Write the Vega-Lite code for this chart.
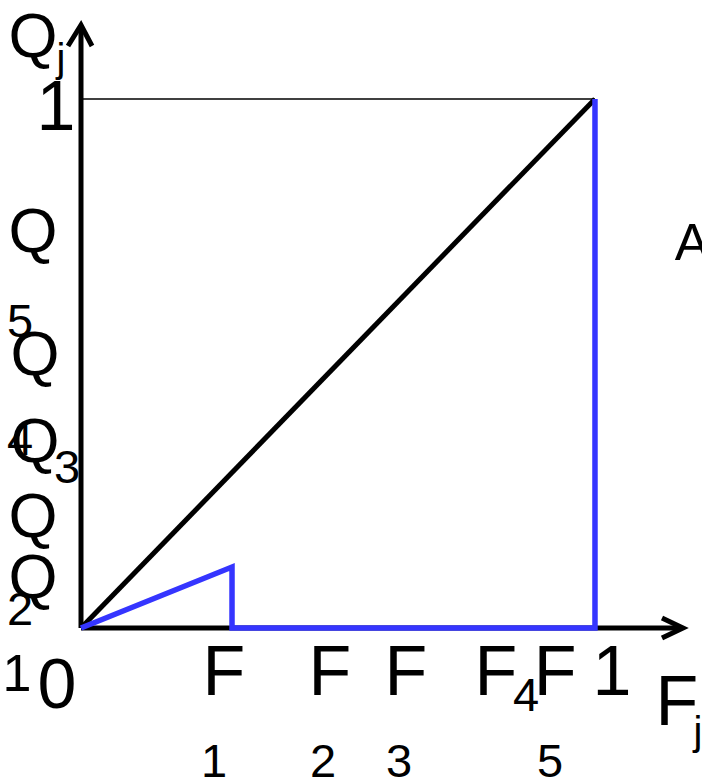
{
  "$schema": "https://vega.github.io/schema/vega-lite/v6.json",
  "width": 702,
  "height": 782,
  "padding": 0,
  "autosize": "none",
  "background": "white",
  "config": {"view": {"stroke": null}},
  "datasets": {
    "frame": [
      {"path": "yaxis", "i": 0, "f": 0, "q": 0},
      {"path": "yaxis", "i": 1, "f": 0, "q": 1.136},
      {"path": "yarrow", "i": 0, "f": -0.0253, "q": 1.1002},
      {"path": "yarrow", "i": 1, "f": 0, "q": 1.1399},
      {"path": "yarrow", "i": 2, "f": 0.0214, "q": 1.1002},
      {"path": "xaxis", "i": 0, "f": 0, "q": 0},
      {"path": "xaxis", "i": 1, "f": 1.168, "q": 0},
      {"path": "xarrow", "i": 0, "f": 1.1304, "q": 0.0189},
      {"path": "xarrow", "i": 1, "f": 1.1712, "q": 0},
      {"path": "xarrow", "i": 2, "f": 1.1304, "q": -0.0189},
      {"path": "equality", "i": 0, "f": 0, "q": 0},
      {"path": "equality", "i": 1, "f": 1, "q": 1}
    ],
    "top": [
      {"i": 0, "f": 0, "q": 1},
      {"i": 1, "f": 1, "q": 1}
    ],
    "lorenz": [
      {"i": 0, "f": 0, "q": 0},
      {"i": 1, "f": 0.2938, "q": 0.1153},
      {"i": 2, "f": 0.2938, "q": 0},
      {"i": 3, "f": 1, "q": 0},
      {"i": 4, "f": 1, "q": 1}
    ],
    "labels": [
      {"t": "Q", "kind": "q", "f": -0.0934, "q": 1.0794},
      {"t": "j", "kind": "tiny", "f": -0.0389, "q": 1.051},
      {"t": "1", "kind": "big", "f": -0.0486, "q": 0.9414},
      {"t": "Q", "kind": "q", "f": -0.0934, "q": 0.7108},
      {"t": "5", "kind": "sub", "f": -0.1187, "q": 0.5501},
      {"t": "Q", "kind": "q", "f": -0.0895, "q": 0.4783},
      {"t": "4", "kind": "sub", "f": -0.1187, "q": 0.327},
      {"t": "Q", "kind": "q", "f": -0.0895, "q": 0.3138},
      {"t": "3", "kind": "sub", "f": -0.0272, "q": 0.2741},
      {"t": "Q", "kind": "q", "f": -0.0934, "q": 0.172},
      {"t": "Q", "kind": "q", "f": -0.0934, "q": 0.0567},
      {"t": "2", "kind": "sub", "f": -0.1187, "q": 0.0057},
      {"t": "1", "kind": "mid", "f": -0.1245, "q": -0.1191},
      {"t": "0", "kind": "big", "f": -0.0467, "q": -0.1512},
      {"t": "F", "kind": "f", "f": 0.2782, "q": -0.1267},
      {"t": "F", "kind": "f", "f": 0.4844, "q": -0.1267},
      {"t": "F", "kind": "f", "f": 0.6323, "q": -0.1267},
      {"t": "F", "kind": "f", "f": 0.8074, "q": -0.1267},
      {"t": "4", "kind": "sub", "f": 0.8658, "q": -0.1569},
      {"t": "F", "kind": "f", "f": 0.9222, "q": -0.1267},
      {"t": "1", "kind": "big", "f": 1.0331, "q": -0.1267},
      {"t": "F", "kind": "f", "f": 1.1595, "q": -0.1834},
      {"t": "j", "kind": "tiny", "f": 1.2004, "q": -0.2212},
      {"t": "1", "kind": "sub", "f": 0.2588, "q": -0.2817},
      {"t": "2", "kind": "sub", "f": 0.4708, "q": -0.2817},
      {"t": "3", "kind": "sub", "f": 0.6187, "q": -0.2817},
      {"t": "5", "kind": "sub", "f": 0.9125, "q": -0.2817},
      {"t": "A", "kind": "label", "f": 1.1887, "q": 0.6957}
    ]
  },
  "encoding": {
    "x": {"field": "f", "type": "quantitative", "axis": null,
          "scale": {"domain": [-0.1576, 1.2082], "nice": false, "zero": false}},
    "y": {"field": "q", "type": "quantitative", "axis": null,
          "scale": {"domain": [-0.2911, 1.1871], "nice": false, "zero": false}}
  },
  "layer": [
    {
      "data": {"name": "top"},
      "mark": {"type": "line", "color": "black", "strokeWidth": 1.5},
      "encoding": {"order": {"field": "i"}}
    },
    {
      "data": {"name": "frame"},
      "mark": {"type": "line", "color": "black", "strokeWidth": 5, "strokeJoin": "miter"},
      "encoding": {"detail": {"field": "path"}, "order": {"field": "i"}}
    },
    {
      "data": {"name": "lorenz"},
      "mark": {"type": "line", "color": "#3535ff", "strokeWidth": 5.5, "strokeJoin": "miter"},
      "encoding": {"order": {"field": "i"}}
    },
    {
      "data": {"name": "labels"},
      "mark": {"type": "text", "font": "Liberation Sans", "color": "black",
               "align": "center", "baseline": "alphabetic"},
      "encoding": {
        "text": {"field": "t"},
        "size": {"field": "kind", "type": "nominal", "legend": null,
                 "scale": {"type": "ordinal",
                           "domain": ["big", "f", "q", "mid", "label", "sub", "tiny"],
                           "range": [70, 70, 63, 52, 52, 47, 40]}}
      }
    }
  ]
}
